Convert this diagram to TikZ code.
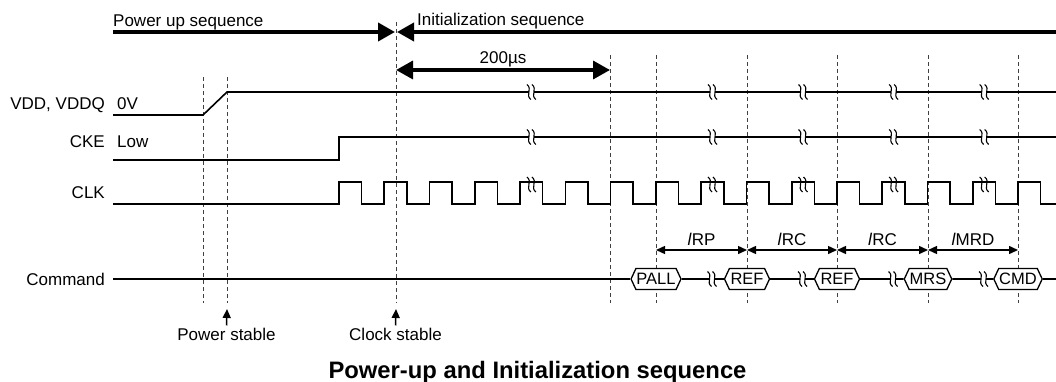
\documentclass[tikz,border=0pt]{standalone}
\usepackage{fontspec}
\setmainfont{Liberation Sans}
\usetikzlibrary{arrows.meta}
\usetikzlibrary{shapes.symbols}

\tikzset{
	bigtip/.tip={Triangle[length=17pt,width=18pt]},
	smalltip/.tip={Triangle[length=9pt,width=8pt]},
	wavebrk/.pic={
		\fill[white] (-2.3,-1.6) rectangle (2.3,1.6);
		\draw[line width=1.1pt] (-4.5,-7.5) .. controls (1.5,-3) and (-6.5,3) .. (-0.5,7.5);
		\draw[line width=1.1pt] (0.5,-7.5) .. controls (6.5,-3) and (-1.5,3) .. (4.5,7.5);
	}
}

\begin{document}
\begin{tikzpicture}[x=1pt,y=-1pt,
	every node/.style={inner sep=0pt,font=\fontsize{17}{20}\selectfont},
	sig/.style={line width=1.6pt},
	dsh/.style={dash pattern=on 4pt off 3pt,line width=0.9pt,black!75},
	tarr/.style={line width=1.4pt,smalltip-smalltip},
	cmdbox/.style={signal,signal to=east and west,signal pointer angle=130,draw,fill=white,line width=1.3pt,minimum width=45pt,minimum height=21pt,inner sep=0.5pt,font=\fontsize{16.5}{16.5}\selectfont}]
	\useasboundingbox (0,0) rectangle (1056,382);

	\foreach \x/\top in {203/77,227/77,396/22,610/55,656/55,747/55,837/55,928/55,1018/55}
		\draw[dsh] (\x,\top) -- (\x,303);

	\node[anchor=base west] (pwrtxt) at (113,26.5) {Power up sequence};
	\node[anchor=base west] (inittxt) at (417,26) {Initialization sequence};
	\coordinate (pwrL) at (113,32);
	\coordinate (pwrR) at (395,32);
	\coordinate (initL) at (397,32);
	\coordinate (initR) at (1056,32);
	\draw[line width=3.8pt,-bigtip] (pwrL) -- (pwrR);
	\draw[line width=3.8pt,-bigtip] (initR) -- (initL);

	\coordinate (us0) at (396,70);
	\coordinate (us1) at (610,70);
	\draw[line width=3.4pt,bigtip-bigtip] (us0) -- (us1);
	\node[anchor=base] (ustxt) at (503,63.5) {200µs};

	\node[anchor=base east] (vddlbl) at (105,109.5) {VDD, VDDQ};
	\node[anchor=base west] (vddlvl) at (117,109.5) {0V};
	\node[anchor=base east] (ckelbl) at (105,148) {CKE};
	\node[anchor=base west] (ckelvl) at (117,148) {Low};
	\node[anchor=base east] (clklbl) at (105,198) {CLK};
	\node[anchor=base east] (cmdlbl) at (105,285) {Command};

	\draw[sig] (113,115) -- (203,115) -- (227,92) -- (1056,92);
	\draw[sig] (113,160) -- (339,160) -- (339,137) -- (1056,137);
	\draw[sig] (113,204) foreach \k in {0,...,15} {
		-- ({339+45.27*\k},204) -- ++(0,-22) -- ++(22.6,0) -- ++(0,22)} -- (1056,204);

	\foreach \x in {531.4,712.5,803,893.6,984.2} {
		\pic at (\x,92) {wavebrk};
		\pic at (\x,137) {wavebrk};
		\pic at (\x,184.5) {wavebrk};
	}

	\node[cmdbox] (pall) at (656,279) {PALL};
	\node[cmdbox] (ref1) at (747,279) {REF};
	\node[cmdbox] (ref2) at (837,279) {REF};
	\node[cmdbox] (mrs) at (928,279) {MRS};
	\node[cmdbox] (cmd) at (1018,279) {CMD};
	\coordinate (cmdL) at (113,279);
	\coordinate (cmdR) at (1056,279);
	\foreach \a/\b in {cmdL/pall,pall/ref1,ref1/ref2,ref2/mrs,mrs/cmd,cmd/cmdR}
		\draw[sig] (\a) -- (\b);
	\foreach \x in {712,802.5,893,983.5}
		\pic at (\x,279) {wavebrk};

	\coordinate (t0) at (656,250);
	\coordinate (t1) at (747,250);
	\coordinate (t2) at (837,250);
	\coordinate (t3) at (928,250);
	\coordinate (t4) at (1018,250);
	\draw[tarr] (t0) -- node[anchor=base,yshift=5pt] (trp) {\textit{l}RP} (t1);
	\draw[tarr] (t1) -- node[anchor=base,yshift=5pt] (trc1) {\textit{l}RC} (t2);
	\draw[tarr] (t2) -- node[anchor=base,yshift=5pt] (trc2) {\textit{l}RC} (t3);
	\draw[tarr] (t3) -- node[anchor=base,yshift=5pt] (tmrd) {\textit{l}MRD} (t4);

	\node[anchor=base] (pstable) at (226.5,340) {Power stable};
	\node[anchor=base] (ckstable) at (395.5,340) {Clock stable};
	\coordinate (pstip) at (227,309);
	\coordinate (cktip) at (396,309);
	\draw[line width=1.5pt,-smalltip] ([yshift=2pt]pstable.north) -- (pstip);
	\draw[line width=1.5pt,-smalltip] ([yshift=2pt]ckstable.north) -- (cktip);

	\node[anchor=base,font=\bfseries\fontsize{23.8}{26}\selectfont] (title) at (537.5,378) {Power-up and Initialization sequence};
\end{tikzpicture}
\end{document}
